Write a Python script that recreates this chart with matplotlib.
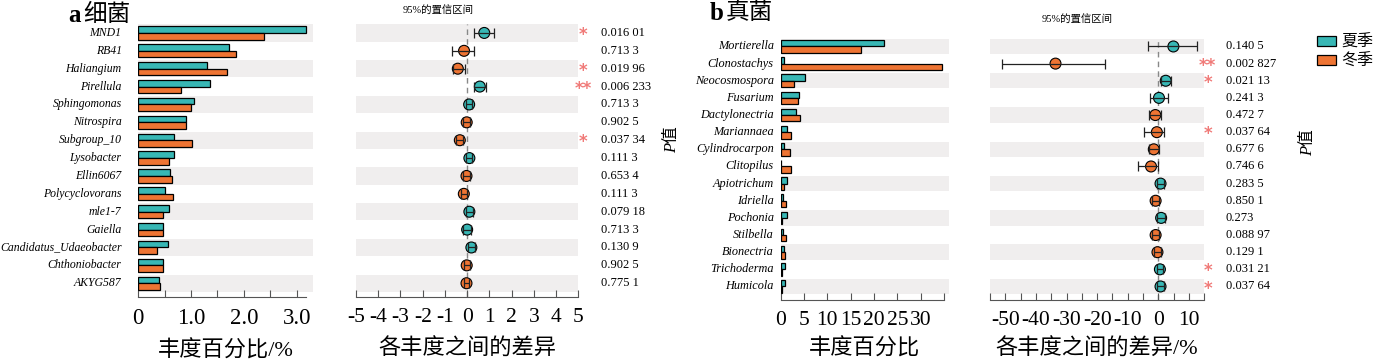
import matplotlib
matplotlib.use('Agg')
import matplotlib.pyplot as plt
from matplotlib.patches import Patch
from matplotlib.ticker import MultipleLocator, FixedLocator
import numpy as np

plt.rcParams['font.family'] = ['Liberation Serif', 'Noto Sans CJK SC']

# ---------------- data ----------------
bac_taxa = ["MND1", "RB41", "Haliangium", "Pirellula", "Sphingomonas", "Nitrospira",
            "Subgroup_10", "Lysobacter", "Ellin6067", "Polycyclovorans", "mle1-7",
            "Gaiella", "Candidatus_Udaeobacter", "Chthoniobacter", "AKYG587"]
bac_summer = [3.18, 1.71, 1.30, 1.36, 1.06, 0.90, 0.68, 0.68, 0.60, 0.51, 0.59, 0.46, 0.56, 0.46, 0.40]
bac_winter = [2.39, 1.86, 1.68, 0.80, 0.99, 0.91, 1.01, 0.59, 0.63, 0.66, 0.47, 0.46, 0.36, 0.46, 0.42]
bac_diff = [0.77, -0.14, -0.42, 0.57, 0.09, -0.02, -0.33, 0.10, -0.03, -0.15, 0.10, 0.00, 0.19, -0.02, -0.03]
bac_lo = [0.32, -0.66, -0.64, 0.29, -0.06, -0.18, -0.48, -0.03, -0.17, -0.28, -0.05, -0.17, 0.02, -0.16, -0.16]
bac_hi = [1.20, 0.33, -0.09, 0.86, 0.24, 0.14, -0.18, 0.23, 0.11, -0.02, 0.25, 0.17, 0.36, 0.12, 0.10]
bac_p = ["0.016 01", "0.713 3", "0.019 96", "0.006 233", "0.713 3", "0.902 5", "0.037 34",
         "0.111 3", "0.653 4", "0.111 3", "0.079 18", "0.713 3", "0.130 9", "0.902 5", "0.775 1"]

fun_taxa = ["Mortierella", "Clonostachys", "Neocosmospora", "Fusarium", "Dactylonectria",
            "Mariannaea", "Cylindrocarpon", "Clitopilus", "Apiotrichum", "Idriella",
            "Pochonia", "Stilbella", "Bionectria", "Trichoderma", "Humicola"]
fun_summer = [22.2, 0.7, 5.2, 4.0, 3.3, 1.4, 0.8, 0.1, 1.35, 0.5, 1.3, 0.5, 0.6, 1.0, 1.0]
fun_winter = [17.2, 34.5, 2.8, 3.8, 4.2, 2.1, 2.0, 2.3, 0.65, 1.1, 0.3, 1.1, 0.9, 0.3, 0.3]
fun_diff = [4.9, -33.6, 2.4, 0.2, -1.0, -0.5, -1.5, -2.4, 0.7, -0.9, 0.9, -0.9, -0.3, 0.5, 0.7]
fun_lo = [-3.3, -51.2, 0.9, -2.7, -3.0, -4.7, -3.0, -6.7, -0.5, -2.0, -0.3, -2.0, -1.5, -0.6, -0.5]
fun_hi = [12.7, -17.3, 4.0, 3.1, 0.9, 1.7, 0.2, -0.2, 1.9, 0.2, 2.1, 0.2, 0.9, 1.6, 1.9]
fun_p = ["0.140 5", "0.002 827", "0.021 13", "0.241 3", "0.472 7", "0.037 64", "0.677 6",
         "0.746 6", "0.283 5", "0.850 1", "0.273", "0.088 97", "0.129 1", "0.031 21", "0.037 64"]

season_labels = ["夏季", "冬季"]

# ---------------- style ----------------
TEAL = '#38b7b5'
ORANGE = '#ee7433'
BAND = '#f0eeee'
STAR = '#f07a78'
SPINE = '#555555'
W, H = 1376, 360

fig = plt.figure(figsize=(W / 100, H / 100), dpi=100)


def fx(px):
    return px / W


def fy(px):
    return 1 - px / H


def make_ax(left, right, top, bottom):
    return fig.add_axes([fx(left), fy(bottom), fx(right - left), (bottom - top) / H])


def style_axis(ax, xlim, bounds, band_half, ylim_bottom, n, labelsize):
    ax.set_xlim(*xlim)
    ax.set_ylim(ylim_bottom, -0.5)
    for s in ['top', 'right', 'left']:
        ax.spines[s].set_visible(False)
    ax.spines['bottom'].set_bounds(*bounds)
    ax.spines['bottom'].set_color(SPINE)
    ax.spines['bottom'].set_linewidth(0.8)
    ax.set_yticks([])
    ax.tick_params(axis='x', which='both', direction='in', length=5, width=0.8,
                   color=SPINE, labelsize=labelsize, pad=8)
    ax.tick_params(axis='x', which='minor', labelbottom=False)
    for i in range(0, n, 2):
        ax.axhspan(i - band_half, i + band_half, color=BAND, lw=0, zorder=0)


def draw_bars(ax, taxa, summer, winter, band_half, ylim_bottom, xlim, bounds, pad, labelsize,
              namesize):
    n = len(taxa)
    y = np.arange(n)
    style_axis(ax, xlim, bounds, band_half, ylim_bottom, n, labelsize)
    h = 0.37
    ax.barh(y - h / 2, summer, height=h, color=TEAL, edgecolor='black', lw=0.9, zorder=2)
    ax.barh(y + h / 2, winter, height=h, color=ORANGE, edgecolor='black', lw=0.9, zorder=2)
    for i, t in enumerate(taxa):
        ax.annotate(t, xy=(0, i), xycoords=('axes fraction', 'data'),
                    xytext=(-pad, 0), textcoords='offset points',
                    ha='right', va='center', fontsize=namesize, fontstyle='italic',
                    family='Liberation Serif')


def draw_ci(ax, diff, lo, hi, pvals, band_half, ylim_bottom, xlim, star_x, p_x, labelsize):
    n = len(diff)
    y = np.arange(n)
    style_axis(ax, xlim, xlim, band_half, ylim_bottom, n, labelsize)
    d = np.array(diff)
    ax.axvline(0, color='#888888', ls=(0, (4, 3)), lw=1.0, zorder=1)
    cols = [TEAL if v >= 0 else ORANGE for v in d]
    ax.scatter(d, y, s=62, c=cols, edgecolors='black', linewidths=0.8, zorder=3)
    ax.errorbar(d, y, xerr=[d - np.array(lo), np.array(hi) - d], fmt='none',
                ecolor='#222222', elinewidth=0.9, capsize=3.5, capthick=0.9, zorder=4)
    for i, p in enumerate(pvals):
        pv = float(p.replace(' ', ''))
        stars = '**' if pv < 0.01 else ('*' if pv < 0.05 else '')
        if stars:
            ax.text(star_x, i + 0.12, stars, transform=ax.get_yaxis_transform(),
                    ha='center', va='center', color=STAR, fontsize=12, fontweight='bold',
                    family='DejaVu Sans', clip_on=False)
        ax.text(p_x, i, p, transform=ax.get_yaxis_transform(), ha='left',
                va='center', fontsize=9, clip_on=False)


# ---------------- panel a ----------------
ax1 = make_ax(138.3, 313, 24, 297)
draw_bars(ax1, bac_taxa, bac_summer, bac_winter, 0.48, 14.77, (0, 3.31), (0, 3.17), 12, 16.5,
          8.5)
ax1.xaxis.set_major_locator(FixedLocator([0, 1, 2, 3]))
ax1.set_xticklabels(['0', '1.0', '2.0', '3.0'])
ax1.xaxis.set_minor_locator(MultipleLocator(0.5))
ax1.set_xlabel('丰度百分比/%', fontsize=16, labelpad=8)

ax2 = make_ax(356, 578.3, 24, 297)
draw_ci(ax2, bac_diff, bac_lo, bac_hi, bac_p, 0.48, 14.77, (-5, 5),
        (583 - 356) / 222.3, (600.7 - 356) / 222.3, 15.5)
ax2.xaxis.set_major_locator(FixedLocator(list(range(-5, 6))))
ax2.set_xticklabels(['-5', '-4', '-3', '-2', '-1', '0', '1', '2', '3', '4', '5'])
ax2.set_xlabel('各丰度之间的差异', fontsize=16, labelpad=8)

# ---------------- panel b ----------------
ax3 = make_ax(780.7, 948.7, 37.9, 300)
draw_bars(ax3, fun_taxa, fun_summer, fun_winter, 0.45, 14.79, (0, 36), (0, 35), 5, 15.5, 8.8)
ax3.xaxis.set_major_locator(FixedLocator([0, 5, 10, 15, 20, 25, 30, 35]))
ax3.set_xticklabels(['0', '5', '10', '15', '20', '25', '30', ''])
ax3.set_xlabel('丰度百分比', fontsize=16, labelpad=6)

ax4 = make_ax(990, 1204.3, 37.9, 300)
draw_ci(ax4, fun_diff, fun_lo, fun_hi, fun_p, 0.45, 14.79, (-55, 15),
        (1207.7 - 990) / 214.3, (1226 - 990) / 214.3, 15.5)
ax4.xaxis.set_major_locator(FixedLocator([-50, -40, -30, -20, -10, 0, 10]))
ax4.set_xticklabels(['-50', '-40', '-30', '-20', '-10', '0', '10'])
ax4.xaxis.set_minor_locator(MultipleLocator(5))
ax4.set_xlabel('各丰度之间的差异/%', fontsize=16, labelpad=6)

# ---------------- texts ----------------
fig.text(fx(68), fy(15), 'a', fontsize=18, fontweight='bold', va='center', ha='left')
fig.text(fx(83), fy(15), '细菌', fontsize=17, va='center', ha='left')
fig.text(fx(710), fy(13), 'b', fontsize=18, fontweight='bold', va='center', ha='left')
fig.text(fx(726), fy(13), '真菌', fontsize=17, va='center', ha='left')

fig.text(fx(438), fy(11), '95%的置信区间', fontsize=7.5, ha='center', va='center')
fig.text(fx(1077), fy(20), '95%的置信区间', fontsize=7.5, ha='center', va='center')

fig.text(fx(672), fy(140), 'P值', fontsize=12, fontstyle='italic', rotation=90,
         ha='center', va='center')
fig.text(fx(1308), fy(143), 'P值', fontsize=12, fontstyle='italic', rotation=90,
         ha='center', va='center')

handles = [Patch(facecolor=TEAL, edgecolor='black', lw=0.9),
           Patch(facecolor=ORANGE, edgecolor='black', lw=0.9)]
fig.legend(handles, season_labels, loc='upper left', bbox_to_anchor=(fx(1317), fy(35)),
           frameon=False, fontsize=11.5, handlelength=1.2, handleheight=0.6,
           handletextpad=0.3, labelspacing=0.15, borderaxespad=0, borderpad=0)

fig.savefig('out.png', dpi=100)
